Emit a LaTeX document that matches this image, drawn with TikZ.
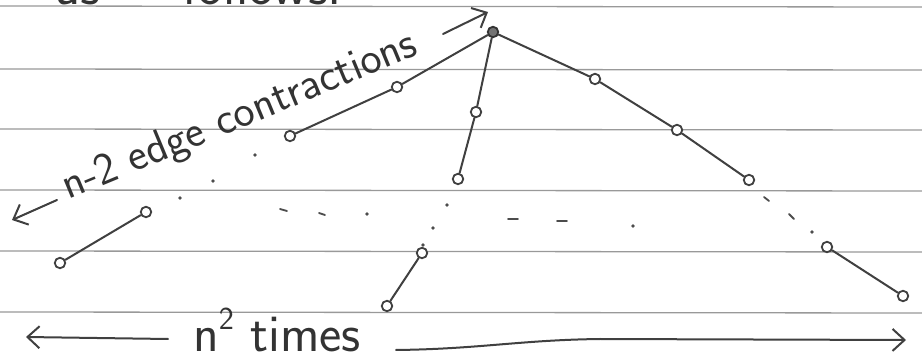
\documentclass[tikz,border=0pt]{standalone}
\usetikzlibrary{arrows.meta}
\begin{document}
\begin{tikzpicture}[x=1pt,y=-1pt,
  rule/.style={draw=black!40, line width=1.3pt},
  ink/.style={draw=black!75, line width=2pt, line cap=round},
  vtx/.style={circle, draw=black!75, line width=1.8pt, fill=white, inner sep=0pt, minimum size=10.5pt},
  apexv/.style={circle, draw=black!80, fill=black!55, line width=1.8pt, inner sep=0pt, minimum size=10.5pt},
  speck/.style={fill=black!70},
  dashmark/.style={draw=black!70, line width=1.8pt, line cap=round},
  lbl/.style={font=\sffamily\fontsize{45}{45}\selectfont, text=black!80, inner sep=0pt},
  barb/.style={-{Straight Barb[length=12pt,width=22pt,line width=2pt]}}]
\useasboundingbox (0,0) rectangle (922,363);
\clip (0,0) rectangle (922,363);
\fill[white] (0,0) rectangle (922,363);
% ruled paper
\foreach \y in {6,69,129,190,251,312} \draw[rule] (0,\y) -- (922,\y+1);
% top text (cut off)
\node[lbl, font=\sffamily\fontsize{55}{55}\selectfont, anchor=base west] (top1) at (55,5) {as};
\node[lbl, font=\sffamily\fontsize{55}{55}\selectfont, anchor=base west] (top2) at (182,5) {follows.};
% vertices
\node[apexv] (A) at (493,32) {};
\node[vtx] (L1) at (397,87) {};
\node[vtx] (L2) at (290,136) {};
\node[vtx] (M1) at (476,112) {};
\node[vtx] (M2) at (458,179) {};
\node[vtx] (R1) at (595,79) {};
\node[vtx] (R2) at (677,130) {};
\node[vtx] (R3) at (749,180) {};
\node[vtx] (LL1) at (146,212) {};
\node[vtx] (LL2) at (60,263) {};
\node[vtx] (ML1) at (422,253) {};
\node[vtx] (ML2) at (387,306) {};
\node[vtx] (RL1) at (827,247) {};
\node[vtx] (RL2) at (903,296) {};
% edges
\draw[ink] (A) -- (L1) -- (L2);
\draw[ink] (A) -- (M1) -- (M2);
\draw[ink] (A) -- (R1) -- (R2) -- (R3);
\draw[ink] (LL1) -- (LL2);
\draw[ink] (ML1) -- (ML2);
\draw[ink] (RL1) -- (RL2);
% dots
\foreach \p in {(255,155),(213,181),(180,198),(367,214),(633,226),(447,205),(433,228),(423,245),(812,232)}
  \fill[speck] \p circle (1.8);
\draw[dashmark] (280,209) -- (287,211);
\draw[dashmark] (319,213) -- (325,215);
\draw[dashmark] (508,219) -- (518,219);
\draw[dashmark] (557,221) -- (567,221);
\draw[dashmark] (764,197) -- (769,201);
\draw[dashmark] (789,214) -- (794,219);
% rotated label
\node[lbl, rotate=22.5, anchor=base west] (lab) at (68,200) {n-2 edge contractions};
\coordinate (la1) at (57,200);
\coordinate (la2) at (12,220);
\coordinate (ra1) at (443,34);
\coordinate (ra2) at (488,12);
\draw[ink, barb] (la1) -- (la2);
\draw[ink, barb] (ra1) -- (ra2);
% bottom label
\node[lbl, font=\sffamily\fontsize{53}{53}\selectfont, anchor=base west] (times) at (193,352) {n\raisebox{0.42em}{\fontsize{32}{32}\selectfont 2} times};
\coordinate (bl1) at (168,339);
\coordinate (bl2) at (26,337);
\coordinate (br1) at (396,350);
\coordinate (br2) at (906,340);
\draw[ink, barb] (bl1) -- (bl2);
\draw[ink, barb] (br1) .. controls (480,349) and (520,340) .. (600,339) -- (br2);
\end{tikzpicture}
\end{document}
